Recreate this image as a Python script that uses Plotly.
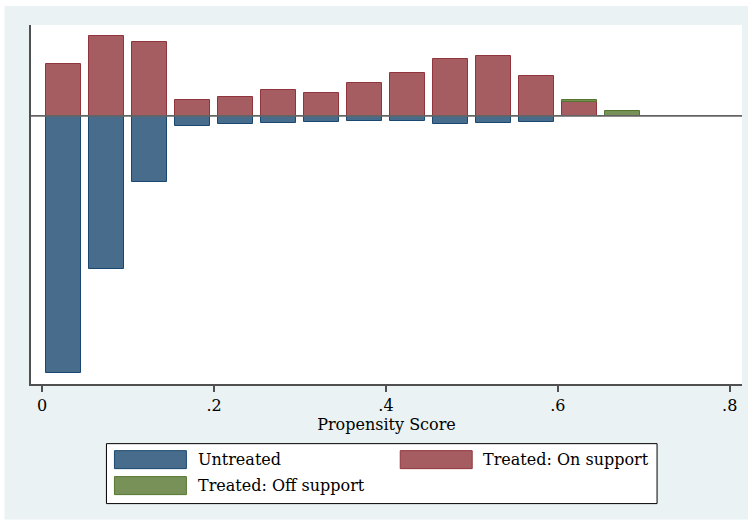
import plotly.graph_objects as go

# ---- data ----
bin_centers = [0.025, 0.075, 0.125, 0.175, 0.225, 0.275, 0.325,
               0.375, 0.425, 0.475, 0.525, 0.575, 0.625, 0.675]
untreated = [-257.3, -152.7, -66.3, -10.0, -7.7, -7.0, -6.3,
             -5.0, -4.7, -8.3, -6.7, -6.0, None, None]
treated_on = [52.3, 80.0, 73.7, 15.7, 19.3, 26.3, 23.3,
              33.0, 43.3, 57.3, 60.0, 40.3, 14.3, None]
treated_off = [None, None, None, None, None, None, None,
               None, None, None, None, None, 1.7, 5.0]

series_names = ["Untreated", "Treated: On support", "Treated: Off support"]
tick_vals = [0, 0.2, 0.4, 0.6, 0.8]
tick_text = ["0", ".2", ".4", ".6", ".8"]
x_title = "Propensity Score"

# ---- styling ----
fills = ["rgb(72,108,140)", "rgb(166,93,98)", "rgb(119,145,89)"]
lines = ["rgb(26,71,111)", "rgb(144,53,59)", "rgb(85,117,47)"]
FONT = "DejaVu Serif"
FS = 16
BG = "rgb(234,242,243)"

W, H = 752, 522
L, R, T, B = 30.5, 742.0, 25.0, 384.3   # plot-area pixel edges

fig = go.Figure()
for vals, name, fc, lc in zip([untreated, treated_on, treated_off],
                              series_names, fills, lines):
    fig.add_trace(go.Bar(x=bin_centers, y=vals, name=name, width=0.0407,
                         marker=dict(color=fc, line=dict(color=lc, width=1)),
                         showlegend=False))

def px(x):
    return (x - L) / (R - L)

def py(y):
    return (B - y) / (B - T)

shapes = [
    # outer light panel
    dict(type="rect", xref="paper", yref="paper", x0=px(4), x1=px(748),
         y0=py(520), y1=py(6), fillcolor=BG, line=dict(width=0), layer="below"),
    # plot area white
    dict(type="rect", xref="paper", yref="paper", x0=0, x1=1, y0=0, y1=1,
         fillcolor="white", line=dict(width=0), layer="below"),
    # zero line
    dict(type="line", xref="paper", yref="y", x0=0, x1=1, y0=0, y1=0,
         line=dict(color="rgb(100,100,100)", width=1.6), layer="above"),
    # legend box
    dict(type="rect", xref="paper", yref="paper", x0=px(106), x1=px(657),
         y0=py(504), y1=py(444), fillcolor="white",
         line=dict(color="black", width=1)),
]
annotations = []
# legend entries: (swatch left px, top px, text left px)
entries = [(114, 451, 198), (400, 451, 483), (114, 477, 198)]
for (sx, sy, tx), name, fc, lc in zip(entries, series_names, fills, lines):
    shapes.append(dict(type="rect", xref="paper", yref="paper",
                       x0=px(sx), x1=px(sx + 72), y0=py(sy + 18), y1=py(sy),
                       fillcolor=fc, line=dict(color=lc, width=1)))
    annotations.append(dict(xref="paper", yref="paper", x=px(tx - 2), y=py(sy + 9),
                            xanchor="left", yanchor="middle", text=name,
                            showarrow=False,
                            font=dict(family=FONT, size=FS, color="black")))

fig.update_layout(
    width=W, height=H,
    margin=dict(l=L, r=W - R, t=T, b=H - B, pad=0),
    paper_bgcolor="white", plot_bgcolor="white",
    barmode="relative", bargap=0,
    shapes=shapes, annotations=annotations,
    font=dict(family=FONT, size=FS, color="black"),
    xaxis=dict(range=[-0.013, 0.8143], tickvals=tick_vals, ticktext=tick_text,
               showgrid=False, zeroline=False, showline=True,
               linecolor="rgb(80,80,80)", linewidth=1.5,
               ticks="outside", ticklen=6, tickwidth=1.5,
               tickcolor="rgb(80,80,80)",
               title=dict(text=x_title, standoff=0,
                          font=dict(family=FONT, size=FS, color="black"))),
    yaxis=dict(range=[-268.3, 91.0], showgrid=False, zeroline=False,
               showline=True, linecolor="rgb(80,80,80)", linewidth=1.5,
               showticklabels=False, ticks=""),
)

fig.write_html("out.html",
               config={"displayModeBar": False},
               post_script="document.body.style.margin='0px';"
                           "document.body.style.padding='0px';")
